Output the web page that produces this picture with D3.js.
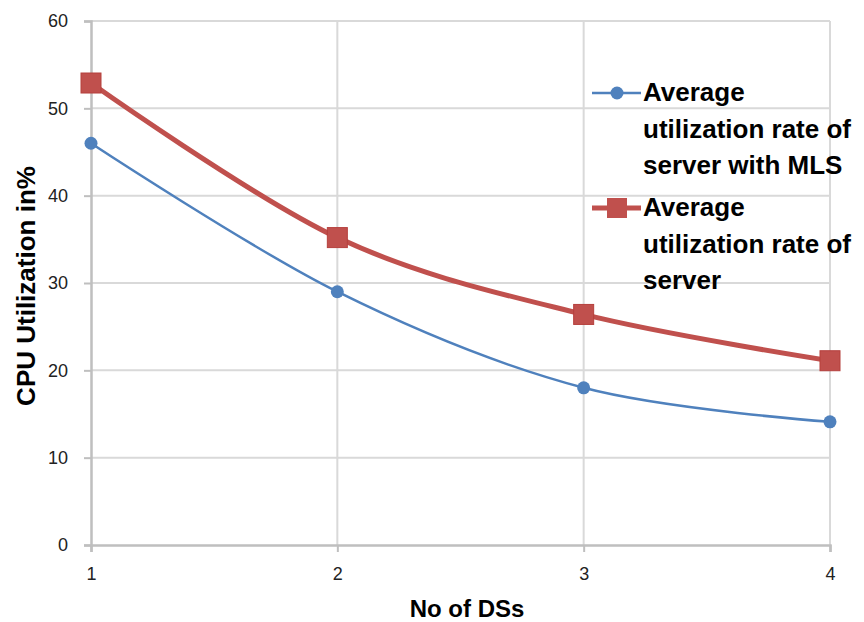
<!DOCTYPE html>
<html>
<head>
<meta charset="utf-8">
<script src="https://cdn.jsdelivr.net/npm/d3@7"></script>
<style>
  html, body { margin: 0; padding: 0; background: #fff; }
  svg { display: block; font-family: "Liberation Sans", Arial, Helvetica, sans-serif; }
</style>
</head>
<body>
<svg id="chart" width="864" height="622"></svg>
<script>
// Number of DSs on the x axis
const dsCounts = [1, 2, 3, 4];
// CPU utilization (%) per series
const withMLS = [46, 29, 18, 14.1];
const withoutMLS = [52.9, 35.2, 26.4, 21.1];
const yTicks = [0, 10, 20, 30, 40, 50, 60];
const seriesNames = [
  ["Average", "utilization rate of", "server with MLS"],
  ["Average", "utilization rate of", "server"]
];

const svg = d3.select("#chart");
const margin = { left: 91, right: 34, top: 21, bottom: 77 };
const W = 864, H = 622;

const x = d3.scaleLinear().domain([1, 4]).range([margin.left, W - margin.right]);
const y = d3.scaleLinear().domain([0, 60]).range([H - margin.bottom, margin.top]);

const gridColor = "#d9d9d9";
const axisColor = "#bfbfbf";

// Horizontal gridlines
svg.append("g").selectAll("line").data(yTicks.filter(d => d > 0)).join("line")
  .attr("x1", x(1)).attr("x2", x(4))
  .attr("y1", d => y(d)).attr("y2", d => y(d))
  .attr("stroke", gridColor).attr("stroke-width", 2);

// Vertical gridlines
svg.append("g").selectAll("line").data(dsCounts.filter(d => d > 1)).join("line")
  .attr("x1", d => x(d)).attr("x2", d => x(d))
  .attr("y1", y(0)).attr("y2", y(60))
  .attr("stroke", gridColor).attr("stroke-width", 2);

// Y axis
const yAxis = svg.append("g").attr("transform", `translate(${x(1)},0)`)
  .call(d3.axisLeft(y).tickValues(yTicks).tickSize(7).tickPadding(16).tickFormat(d3.format("d")));
// X axis
const xAxis = svg.append("g").attr("transform", `translate(0,${y(0)})`)
  .call(d3.axisBottom(x).tickValues(dsCounts).tickSize(7).tickPadding(15).tickFormat(d3.format("d")));

[yAxis, xAxis].forEach(g => {
  g.select(".domain").attr("stroke", axisColor).attr("stroke-width", 2.5);
  g.selectAll(".tick line").attr("stroke", axisColor).attr("stroke-width", 2);
  g.selectAll(".tick text").attr("fill", "#222").attr("font-size", 18)
    .attr("font-family", "'Liberation Sans', Arial, sans-serif");
});

// Axis titles
svg.append("text")
  .attr("transform", `translate(35,286) rotate(-90)`)
  .attr("text-anchor", "middle")
  .attr("font-size", 26).attr("font-weight", "bold").attr("fill", "#000")
  .text("CPU Utilization in%");

svg.append("text")
  .attr("x", 467).attr("y", 617)
  .attr("text-anchor", "middle")
  .attr("font-size", 24).attr("font-weight", "bold").attr("fill", "#000")
  .text("No of DSs");

const line = d3.line()
  .x((d, i) => x(dsCounts[i]))
  .y(d => y(d))
  .curve(d3.curveCatmullRom.alpha(0));

const red = "#c0504d", blue = "#4f81bd";

// Series without MLS (red, squares)
svg.append("path").datum(withoutMLS)
  .attr("d", line).attr("fill", "none")
  .attr("stroke", red).attr("stroke-width", 5).attr("stroke-linejoin", "round");
svg.append("g").selectAll("rect").data(withoutMLS).join("rect")
  .attr("x", (d, i) => x(dsCounts[i]) - 10).attr("y", d => y(d) - 10)
  .attr("width", 20).attr("height", 20)
  .attr("fill", red).attr("stroke", "#b5403d").attr("stroke-width", 1);

// Series with MLS (blue, circles)
svg.append("path").datum(withMLS)
  .attr("d", line).attr("fill", "none")
  .attr("stroke", blue).attr("stroke-width", 2.5);
svg.append("g").selectAll("circle").data(withMLS).join("circle")
  .attr("cx", (d, i) => x(dsCounts[i])).attr("cy", d => y(d))
  .attr("r", 6.5).attr("fill", blue);

// Legend
const legend = svg.append("g");
const legendItems = [
  { color: blue, width: 2.5, marker: "circle", y: 93, lines: seriesNames[0] },
  { color: red, width: 5, marker: "rect", y: 208, lines: seriesNames[1] }
];
legendItems.forEach(item => {
  const g = legend.append("g");
  g.append("line").attr("x1", 592).attr("x2", 641)
    .attr("y1", item.y).attr("y2", item.y)
    .attr("stroke", item.color).attr("stroke-width", item.width);
  if (item.marker === "circle") {
    g.append("circle").attr("cx", 617).attr("cy", item.y).attr("r", 6.5).attr("fill", item.color);
  } else {
    g.append("rect").attr("x", 607).attr("y", item.y - 10).attr("width", 20).attr("height", 20)
      .attr("fill", item.color);
  }
  item.lines.forEach((t, i) => {
    g.append("text").attr("x", 643).attr("y", item.y + 8 + i * 36.5)
      .attr("font-size", 26).attr("font-weight", "bold").attr("fill", "#000")
      .text(t);
  });
});
</script>
</body>
</html>
